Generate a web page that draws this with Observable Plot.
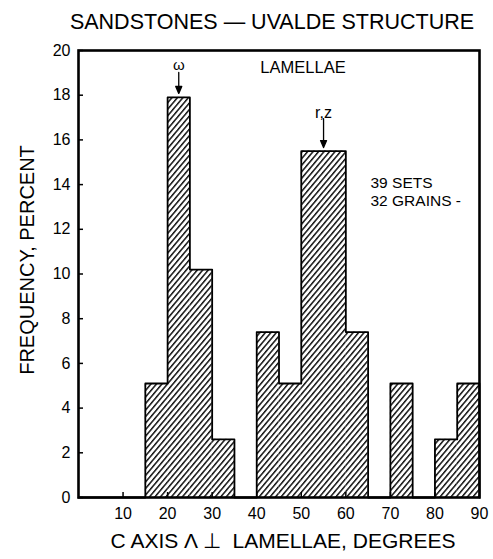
<!DOCTYPE html>
<html><head><meta charset="utf-8">
<script src="https://cdn.jsdelivr.net/npm/d3@7"></script>
<script src="https://cdn.jsdelivr.net/npm/@observablehq/plot@0.6"></script>
<style>
body{margin:0;background:#fff;font-family:"Liberation Sans",Arial,Helvetica,sans-serif;color:#000;}
#title{position:relative;height:40px;width:493px;}
#title span{position:absolute;left:272px;top:12px;transform:translateX(-50%);font-size:21.5px;white-space:nowrap;line-height:1;}
</style></head>
<body>
<div id="title"><span>SANDSTONES — UVALDE STRUCTURE</span></div>
<div id="chart"></div>
<script>
// ---- data ----
const binStart = [0, 5, 10, 15, 20, 25, 30, 35, 40, 45, 50, 55, 60, 65, 70, 75, 80, 85];
const frequency = [0, 0, 0, 5.1, 17.9, 10.2, 2.6, 0, 7.4, 5.1, 15.5, 15.5, 7.4, 0, 5.1, 0, 2.6, 5.1];
const yTicks = [0, 2, 4, 6, 8, 10, 12, 14, 16, 18, 20];
const xTickLabels = [10, 20, 30, 40, 50, 60, 70, 80, 90];
const xInnerTicks = [10, 20, 30, 40, 50, 60, 70, 80];
const peakLabels = ["ω", "r,z"];
const peakAngles = [22.5, 55];
const peakValues = [17.9, 15.5];

const binWidth = 5;
const bins = binStart.map((s, i) => ({x1: s, x2: s + binWidth, v: frequency[i]}));
const outline = bins.map(b => ({x: b.x1, y: b.v}));
outline.push({x: bins[bins.length - 1].x2, y: bins[bins.length - 1].v});
outline.push({x: bins[bins.length - 1].x2, y: 0});
const peaks = peakLabels.map((l, i) => ({label: l, x: peakAngles[i], v: peakValues[i]}));

const W = 493, H = 519, mL = 78, mR = 14, mT = 10, mB = 62;
const pw = W - mL - mR, ph = H - mT - mB;

const arrowShape = {
  draw(ctx, l) {
    const head = 7, w = 3;
    ctx.moveTo(0, 0);
    ctx.lineTo(0, -l + head);
    ctx.moveTo(-w, -l + head);
    ctx.lineTo(0, -l);
    ctx.lineTo(w, -l + head);
    ctx.closePath();
  }
};

const chart = Plot.plot({
  width: W, height: H,
  marginLeft: mL, marginRight: mR, marginTop: mT, marginBottom: mB,
  style: {fontFamily: "Liberation Sans, Arial, Helvetica, sans-serif", fontSize: "16px", color: "#000", background: "#fff"},
  x: {domain: [0, 90]},
  y: {domain: [0, 20]},
  marks: [
    Plot.rectY(bins.filter(b => b.v > 0), {x1: "x1", x2: "x2", y: "v", fill: "url(#hatch)"}),
    Plot.line(outline, {x: "x", y: "y", curve: "step-after", stroke: "#000", strokeWidth: 1.8}),
    Plot.tickY(yTicks, {y: d => d, stroke: "#000", strokeWidth: 1.5, insetRight: pw - 5}),
    Plot.tickX(xInnerTicks, {x: d => d, stroke: "#000", strokeWidth: 1.5, insetTop: ph - 5}),
    Plot.axisY({ticks: yTicks, tickSize: 0, tickPadding: 8, fontSize: 16, label: null}),
    Plot.axisX({ticks: xTickLabels, tickSize: 0, tickPadding: 10, fontSize: 16, label: null}),
    Plot.frame({stroke: "#000", strokeWidth: 2.6}),
    // peak arrows and labels
    Plot.vector(peaks, {x: "x", y: "v", rotate: 180, anchor: "end", length: 21, dy: -4,
      shape: arrowShape, stroke: "#000", fill: "#000", strokeWidth: 1.3, filter: d => d.label === "ω"}),
    Plot.vector(peaks, {x: "x", y: "v", rotate: 180, anchor: "end", length: 29, dy: -3.5,
      shape: arrowShape, stroke: "#000", fill: "#000", strokeWidth: 1.3, filter: d => d.label === "r,z"}),
    Plot.text(peaks, {x: "x", y: "v", text: "label", fontSize: 15, fill: "#000",
      lineAnchor: "middle", filter: d => d.label === "ω", dy: -32}),
    Plot.text(peaks, {x: "x", y: "v", text: "label", fontSize: 16, fill: "#000",
      lineAnchor: "middle", filter: d => d.label === "r,z", dy: -38.5}),
    // free annotations
    Plot.text(["LAMELLAE"], {frameAnchor: "top", dx: 24, dy: 17.5, fontSize: 16.5, fill: "#000", lineAnchor: "middle", textAnchor: "middle"}),
    Plot.text(["39 SETS\n32 GRAINS -"], {frameAnchor: "top-left", dx: 292, dy: 140.5, fontSize: 15.5, lineHeight: 1.2,
      textAnchor: "start", fill: "#000", lineAnchor: "middle"}),
    // axis titles
    Plot.text(["FREQUENCY, PERCENT"], {frameAnchor: "left", rotate: -90, dx: -51, dy: -14, fontSize: 20, fill: "#000",
      lineAnchor: "middle", textAnchor: "middle"}),
    Plot.text(["C AXIS Λ ⊥  LAMELLAE, DEGREES"], {frameAnchor: "bottom", dx: 4, dy: 44, fontSize: 21, fill: "#000",
      lineAnchor: "middle", textAnchor: "middle"})
  ]
});

const ns = "http://www.w3.org/2000/svg";
const defs = document.createElementNS(ns, "defs");
defs.innerHTML = '<pattern id="hatch" patternUnits="userSpaceOnUse" width="8" height="4.2" patternTransform="rotate(-50)"><rect x="0" y="0" width="8" height="1.5" fill="#111"/></pattern>';
chart.insertBefore(defs, chart.firstChild);
document.getElementById("chart").appendChild(chart);
</script>
</body></html>
